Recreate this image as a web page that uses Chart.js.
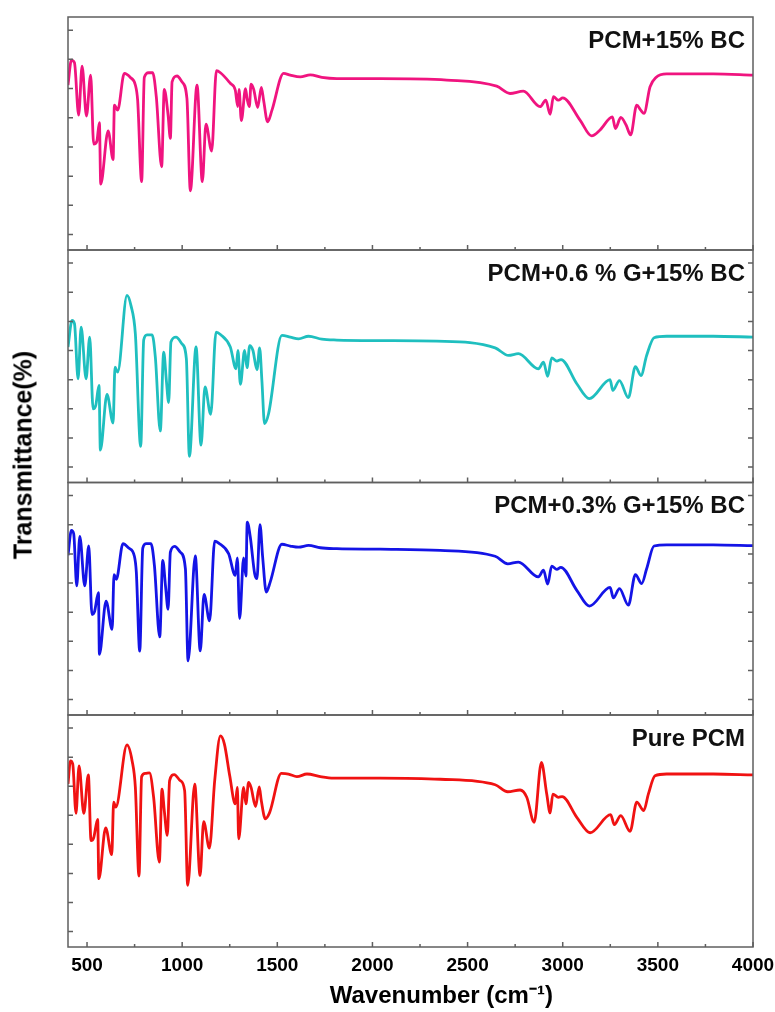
<!DOCTYPE html>
<html>
<head>
<meta charset="utf-8">
<script src="https://cdn.jsdelivr.net/npm/chart.js@4.4.1/dist/chart.umd.min.js"></script>
<style>
  html, body { margin: 0; padding: 0; background: #fff; }
  #wrap { position: relative; width: 775px; height: 1012px; }
  #wrap canvas { position: absolute; left: 0; top: 0; }
  #ytitle {
    position: absolute; left: 23px; top: 455px;
    transform: translate(-50%, -50%) rotate(-90deg);
    font: bold 25px "Liberation Sans", Arial, sans-serif;
    white-space: nowrap; color: #000;
  }
</style>
</head>
<body>
<div id="wrap">
  <canvas id="p0" width="775" height="1012"></canvas>
  <canvas id="p1" width="775" height="1012"></canvas>
  <canvas id="p2" width="775" height="1012"></canvas>
  <canvas id="p3" width="775" height="1012"></canvas>
  <div id="ytitle">Transmittance(%)</div>
</div>
<script>
// series, top panel first
const seriesNames = ['PCM+15% BC', 'PCM+0.6 % G+15% BC', 'PCM+0.3% G+15% BC', 'Pure PCM'];

// PCM+15% BC
const bc15Wn = [400,418,434,456,474,497,519,535,551,565,572,611,637,644,661,696,728,754,766,787,801,824,845,864,892,906,926,938,947,973,999,1025,1043,1078,1106,1125,1155,1180,1201,1253,1279,1292,1299,1311,1333,1341,1353,1362,1376,1397,1416,1428,1449,1472,1533,1568,1621,1673,1734,1813,2041,2391,2653,2723,2793,2881,2911,2934,2951,2977,3000,3091,3152,3196,3261,3277,3305,3333,3357,3389,3410,3427,3459,3490,3546,3791,4000];
const bc15T = [51.2,59.7,58.8,40.9,57.7,40.6,54.6,31.0,31.8,38.3,17.3,35.5,25.7,44.3,42.6,55.2,53.8,51.2,46.0,18.1,53.8,55.4,55.4,47.2,23.2,49.7,40.9,32.9,52.3,54.3,52.3,46.6,15.0,51.2,18.1,37.8,28.6,56.1,55.4,51.8,49.5,43.8,49.7,39.0,50.0,46.6,43.8,51.5,49.7,43.5,50.4,46.0,38.6,42.6,55.2,54.6,54.0,54.7,53.8,53.4,53.4,52.9,50.8,48.3,49.1,43.8,46.0,41.2,47.2,46.0,46.8,39.2,33.8,35.8,40.3,36.3,40.1,37.5,34.1,44.3,42.6,41.5,50.6,53.8,55.0,55.0,54.6];

// PCM+0.6 % G+15% BC
const g06Wn = [400,421,434,453,469,495,514,532,546,563,570,605,637,647,661,710,731,754,782,798,815,842,859,885,903,917,929,941,968,999,1022,1038,1073,1099,1120,1150,1178,1201,1253,1283,1293,1306,1328,1341,1355,1372,1393,1407,1419,1433,1454,1524,1568,1612,1664,1734,1813,2041,2338,2645,2715,2767,2872,2899,2921,2942,2969,2991,3074,3140,3249,3263,3298,3345,3382,3411,3441,3480,3546,3791,4000];
const g06T = [41.2,50.3,49.2,30.3,48.0,30.3,44.6,20.0,21.2,28.0,5.8,24.9,15.1,34.3,32.6,58.9,55.4,45.7,7.1,43.7,45.4,45.4,37.7,12.4,39.4,29.7,22.1,42.9,44.6,42.3,37.2,3.7,41.2,7.5,27.5,18.1,46.3,45.5,41.2,33.7,40.0,28.4,40.0,34.1,41.7,40.0,33.4,40.9,29.7,14.9,18.3,45.2,44.6,44.0,44.9,43.9,43.6,43.4,43.2,40.9,38.3,38.9,33.7,36.0,31.1,37.5,36.4,36.9,28.6,23.5,30.0,26.3,29.7,23.8,34.5,31.4,38.3,44.4,44.9,44.9,44.6];

// PCM+0.3% G+15% BC
const g03Wn = [400,418,430,446,462,488,509,526,539,560,565,600,632,642,654,689,719,749,759,777,793,812,836,854,882,898,913,926,938,961,990,1017,1031,1069,1095,1115,1144,1171,1192,1244,1279,1290,1302,1323,1335,1342,1358,1381,1393,1409,1423,1442,1463,1524,1568,1612,1664,1726,1813,2041,2356,2645,2711,2767,2872,2899,2921,2942,2969,2990,3074,3140,3249,3266,3298,3345,3382,3415,3441,3480,3546,3791,4000];
const g03T = [49.5,58.1,56.9,39.0,56.0,39.0,52.7,29.2,30.1,36.7,15.5,33.8,24.1,42.9,41.3,53.5,52.0,49.2,43.8,16.6,52.0,53.5,53.5,46.1,21.5,47.8,38.6,31.0,50.6,52.6,50.6,44.9,13.3,49.3,16.7,36.1,27.0,54.4,53.7,50.1,42.6,48.6,27.8,48.6,42.4,60.9,55.8,43.2,41.5,60.0,48.9,36.9,40.4,53.3,52.7,52.3,52.9,52.1,51.8,51.6,51.2,49.2,46.6,47.2,42.1,44.4,39.6,45.8,44.7,45.4,37.5,32.1,38.5,34.9,38.1,32.4,42.9,39.8,44.9,52.7,53.1,53.1,52.8];

// Pure PCM
const pureWn = [400,413,425,442,458,483,507,521,535,556,562,598,630,640,651,710,737,754,773,787,807,828,850,880,894,906,922,934,959,990,1013,1029,1066,1094,1113,1143,1171,1201,1222,1250,1279,1290,1297,1323,1335,1349,1362,1386,1405,1416,1437,1460,1521,1559,1603,1656,1726,1796,2041,2356,2645,2711,2776,2811,2850,2888,2916,2934,2948,2977,2997,3074,3144,3252,3271,3305,3354,3389,3426,3450,3485,3546,3791,4000];
const pureT = [50.8,58.7,57.6,40.7,57.0,40.7,53.9,31.3,32.3,38.6,18.2,35.7,26.5,44.5,42.8,64.2,58.7,49.6,19.1,53.3,54.4,54.6,46.2,23.9,49.0,41.6,33.1,51.9,54.0,51.9,48.5,15.9,50.7,19.3,37.8,28.7,51.9,67.3,64.5,53.6,43.9,49.6,31.9,49.6,43.9,51.3,49.6,43.0,49.8,45.0,38.8,41.0,54.4,54.2,53.3,54.2,53.3,52.8,52.8,52.4,50.5,48.1,48.7,46.2,37.6,58.2,47.3,40.8,47.3,46.2,46.4,39.3,34.0,40.2,36.8,39.9,34.5,44.5,41.6,47.3,53.6,54.2,54.2,53.9];

const xTickValues = [500, 1000, 1500, 2000, 2500, 3000, 3500, 4000];
const xMinorValues = [750, 1250, 1750, 2250, 2750, 3250, 3750];
const yTickValues = [0, 10, 20, 30, 40, 50, 60, 70];

const seriesWn = [bc15Wn, g06Wn, g03Wn, pureWn];
const seriesT = [bc15T, g06T, g03T, pureT];
const seriesColors = ['#f0147f', '#1fbfbf', '#1414e6', '#f01212'];
const rightTicks = [false, true, true, false];

// panel boxes in page pixels
const panelTop = [17, 250, 482.5, 715];
const panelBottom = [250, 482.5, 715, 947];
const FONT = '"Liberation Sans", Arial, sans-serif';

Chart.defaults.font.family = FONT;
Chart.defaults.color = '#000';

// frame with inward ticks plus the panel label (and the x title on the last panel)
const panelFrame = {
  id: 'panelFrame',
  afterDatasetsDraw(chart, args, opts) {
    const { ctx, chartArea: a } = chart;
    const x = chart.scales.x, y = chart.scales.y;
    ctx.save();
    ctx.strokeStyle = '#5f5f5f';
    ctx.lineWidth = 1.5;
    ctx.strokeRect(a.left, a.top, a.right - a.left, a.bottom - a.top);
    ctx.beginPath();
    xTickValues.forEach(v => {
      const px = x.getPixelForValue(v);
      ctx.moveTo(px, a.bottom); ctx.lineTo(px, a.bottom - 5);
    });
    xMinorValues.forEach(v => {
      const px = x.getPixelForValue(v);
      ctx.moveTo(px, a.bottom); ctx.lineTo(px, a.bottom - 3);
    });
    yTickValues.forEach(v => {
      const py = y.getPixelForValue(v);
      ctx.moveTo(a.left, py); ctx.lineTo(a.left + 5, py);
      if (opts.rightTicks) { ctx.moveTo(a.right, py); ctx.lineTo(a.right - 5, py); }
    });
    ctx.stroke();
    ctx.fillStyle = '#111';
    ctx.font = 'bold 24px ' + FONT;
    ctx.textAlign = 'right';
    ctx.textBaseline = 'middle';
    ctx.fillText(opts.label, a.right - 8, a.top + 24);
    if (opts.xTitle) {
      ctx.fillStyle = '#000';
      ctx.textAlign = 'center';
      ctx.fillText(opts.xTitle, a.left + (a.right - a.left) * 0.545, a.bottom + 49);
    }
    ctx.restore();
  }
};

function makePanel(i) {
  const last = i === seriesNames.length - 1;
  const points = seriesWn[i].map((w, k) => ({ x: w, y: seriesT[i][k] }));
  const xScale = {
    type: 'linear',
    min: 400,
    max: 4000,
    display: last
  };
  if (last) {
    Object.assign(xScale, {
      afterBuildTicks: (scale) => { scale.ticks = xTickValues.map(v => ({ value: v })); },
      afterFit: (scale) => {
        scale.height = 1012 - panelBottom[i];
        scale.paddingLeft = 0;
        scale.paddingRight = 0;
      },
      grid: { display: false, drawTicks: false },
      border: { display: false },
      ticks: { padding: 7, font: { size: 19, weight: 'bold' }, maxRotation: 0, callback: (v) => String(v) }
    });
  }
  return new Chart(document.getElementById('p' + i), {
    type: 'line',
    data: {
      datasets: [{
        label: seriesNames[i],
        data: points,
        borderColor: seriesColors[i],
        borderWidth: 2.8,
        pointRadius: 0,
        fill: false,
        cubicInterpolationMode: 'monotone'
      }]
    },
    options: {
      responsive: false,
      animation: false,
      events: [],
      layout: {
        padding: { left: 68, right: 22, top: panelTop[i], bottom: last ? 0 : 1012 - panelBottom[i] }
      },
      plugins: {
        legend: { display: false },
        tooltip: { enabled: false },
        panelFrame: {
          label: seriesNames[i],
          rightTicks: rightTicks[i],
          xTitle: last ? 'Wavenumber (cm\u207B\u00B9)' : ''
        }
      },
      scales: {
        x: xScale,
        y: { min: -5.3, max: 74.5, display: false }
      }
    },
    plugins: [panelFrame]
  });
}

seriesNames.forEach((n, i) => makePanel(i));
</script>
</body>
</html>
